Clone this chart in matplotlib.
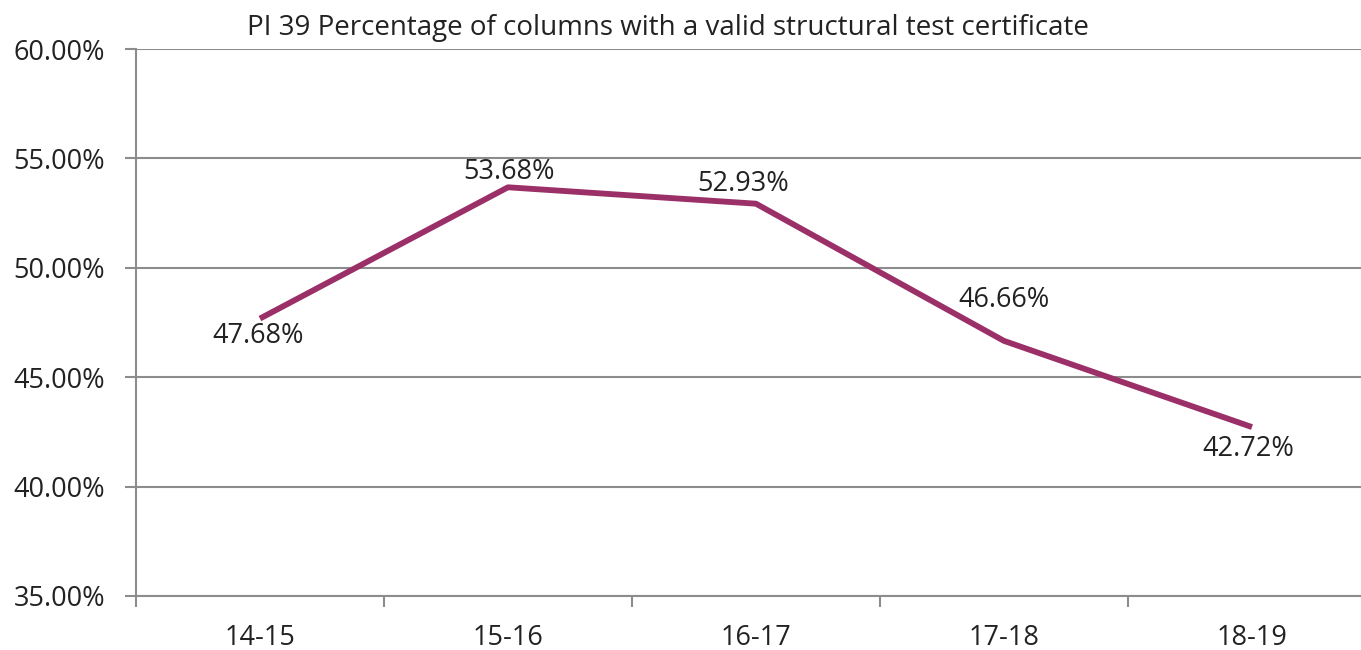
import matplotlib.pyplot as plt
import numpy as np

# PI 39 data
years = ['14-15', '15-16', '16-17', '17-18', '18-19']
pctValid = [47.68, 53.68, 52.93, 46.66, 42.72]
# label offsets (pixels) so the numbers sit like in the original
labelOffsets = [(-2, -17), (1, 15), (-13, 20), (0, 41), (-4, -22)]

plt.rcParams['font.family'] = ['Open Sans', 'DejaVu Sans']
fs = 19.5

fig = plt.figure(figsize=(13.61, 6.5), dpi=100)
ax = fig.add_axes([0.0999, 0.0831, 0.9111, 0.8415])

x = np.arange(len(years))
ax.plot(x, pctValid, color='#9B2F68', linewidth=4.2, solid_capstyle='butt')

for xi, val, off in zip(x, pctValid, labelOffsets):
    ax.annotate('{:.2f}%'.format(val), (xi, val), xytext=off, textcoords='offset pixels',
                ha='center', va='center', fontsize=fs, color='#222222')

ax.set_xlim(-0.5, len(years) - 0.5)
ax.set_ylim(35, 60)
ax.set_yticks(np.arange(35, 61, 5))
ax.set_yticklabels(['{:.2f}%'.format(v) for v in np.arange(35, 61, 5)])
ax.yaxis.grid(True, color='#8c8c8c', linewidth=1.5)

# category labels in the middle, tick marks on the boundaries
ax.set_xticks(np.arange(-0.5, len(years), 1.0))
ax.set_xticklabels([])
ax.set_xticks(x, minor=True)
ax.set_xticklabels(years, minor=True)
ax.tick_params(axis='x', which='major', length=8, width=1.5, color='#8c8c8c')
ax.tick_params(axis='x', which='minor', length=0, pad=20, labelsize=fs, labelcolor='#222222')
ax.tick_params(axis='y', length=8, width=1.5, color='#8c8c8c', labelsize=fs, labelcolor='#222222', pad=14)

for side in ['top', 'right']:
    ax.spines[side].set_visible(False)
for side in ['left', 'bottom']:
    ax.spines[side].set_color('#8c8c8c')
    ax.spines[side].set_linewidth(1.5)

fig.text(0.491, 0.957, 'PI 39 Percentage of columns with a valid structural test certificate',
         ha='center', va='center', fontsize=20, color='#222222')

plt.savefig('out.png', dpi=100)
